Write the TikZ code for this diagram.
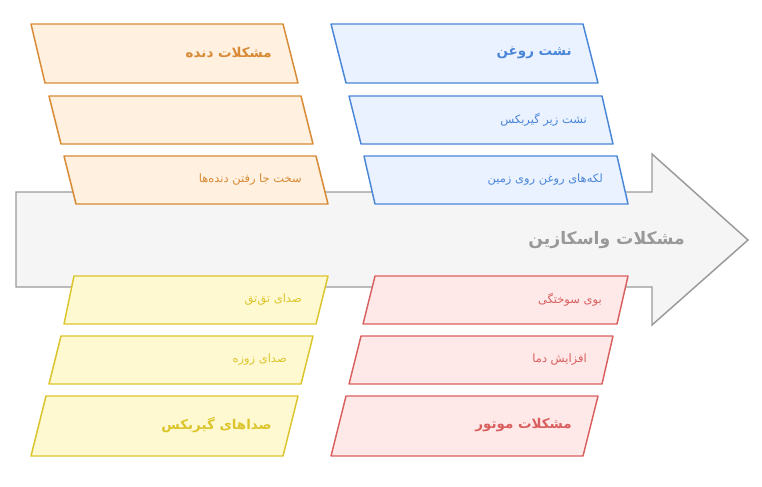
\documentclass[tikz,border=0pt]{standalone}
\usepackage{fontspec}
\TeXXeTstate=1
\newfontfamily\arabicfont[Script=Arabic]{DejaVu Sans}
\definecolor{orS}{HTML}{D88A35}
\definecolor{orF}{HTML}{FFF0E0}
\definecolor{blS}{HTML}{4A86D8}
\definecolor{blF}{HTML}{EAF2FF}
\definecolor{yeS}{HTML}{DCC52C}
\definecolor{yeF}{HTML}{FFF9D2}
\definecolor{reS}{HTML}{D9605F}
\definecolor{reF}{HTML}{FFE8E8}
\definecolor{grS}{HTML}{9A9A9A}
\definecolor{grF}{HTML}{F5F5F5}
\definecolor{grT}{HTML}{999999}
\begin{document}
\begin{tikzpicture}[x=0.75pt,y=-0.75pt,
  box/.style={line width=1.1pt, line join=round},
  obox/.style={box, draw=orS, fill=orF},
  bbox/.style={box, draw=blS, fill=blF},
  ybox/.style={box, draw=yeS, fill=yeF},
  rbox/.style={box, draw=reS, fill=reF},
  abox/.style={line width=1.1pt, draw=grS, fill=grF, line join=miter},
  lbl/.style={anchor=east, inner sep=0pt, font=\arabicfont\fontsize{8.6}{10}\selectfont},
  ttl/.style={anchor=east, inner sep=0pt, font=\arabicfont\bfseries\fontsize{10.1}{12}\selectfont}]
\useasboundingbox (0,0) rectangle (762,486);
% main arrow
\draw[abox] (16,192) -- (652,192) -- (652,154) -- (748,240) -- (652,325) -- (652,287) -- (16,287) -- cycle;
\node[anchor=east, inner sep=0pt, text=grT, font=\arabicfont\bfseries\fontsize{12.9}{15}\selectfont] (main) at (685,240) {\beginR مشکلات واسکازین\endR};
% orange
\draw[obox] (31,24) -- (283,24) -- (298,83) -- (45,83) -- cycle;
\draw[obox] (49,96) -- (301,96) -- (313,144) -- (61,144) -- cycle;
\draw[obox] (64,156) -- (316,156) -- (328,204) -- (76,204) -- cycle;
\node[ttl, text=orS] (o1) at (272,53) {\beginR مشکلات دنده\endR};
\node[lbl, text=orS] (o3) at (302,180) {\beginR سخت جا رفتن دنده^^^^200cها\endR};
% blue
\draw[bbox] (331,24) -- (583,24) -- (598,83) -- (346,83) -- cycle;
\draw[bbox] (349,96) -- (602,96) -- (613,144) -- (361,144) -- cycle;
\draw[bbox] (364,156) -- (617,156) -- (628,204) -- (375,204) -- cycle;
\node[ttl, text=blS] (b1) at (572,53) {\beginR نشت روغن\endR};
\node[lbl, text=blS] (b2) at (587,120) {\beginR نشت زیر گیربکس\endR};
\node[lbl, text=blS] (b3) at (603,180) {\beginR لکه^^^^200cهای روغن روی زمین\endR};
% yellow
\draw[ybox] (74,276) -- (328,276) -- (316,324) -- (64,324) -- cycle;
\draw[ybox] (61,336) -- (313,336) -- (301,384) -- (49,384) -- cycle;
\draw[ybox] (46,396) -- (298,396) -- (283,456) -- (31,456) -- cycle;
\node[lbl, text=yeS] (y1) at (302,300) {\beginR صدای تق^^^^200cتق\endR};
\node[lbl, text=yeS] (y2) at (287,360) {\beginR صدای زوزه\endR};
\node[ttl, text=yeS] (y3) at (272,425) {\beginR صداهای گیربکس\endR};
% red
\draw[rbox] (375,276) -- (628,276) -- (617,324) -- (363,324) -- cycle;
\draw[rbox] (361,336) -- (613,336) -- (602,384) -- (349,384) -- cycle;
\draw[rbox] (346,396) -- (598,396) -- (583,456) -- (331,456) -- cycle;
\node[lbl, text=reS] (r1) at (602,300) {\beginR بوی سوختگی\endR};
\node[lbl, text=reS] (r2) at (587,360) {\beginR افزایش دما\endR};
\node[ttl, text=reS] (r3) at (572,425) {\beginR مشکلات موتور\endR};
\end{tikzpicture}
\end{document}
